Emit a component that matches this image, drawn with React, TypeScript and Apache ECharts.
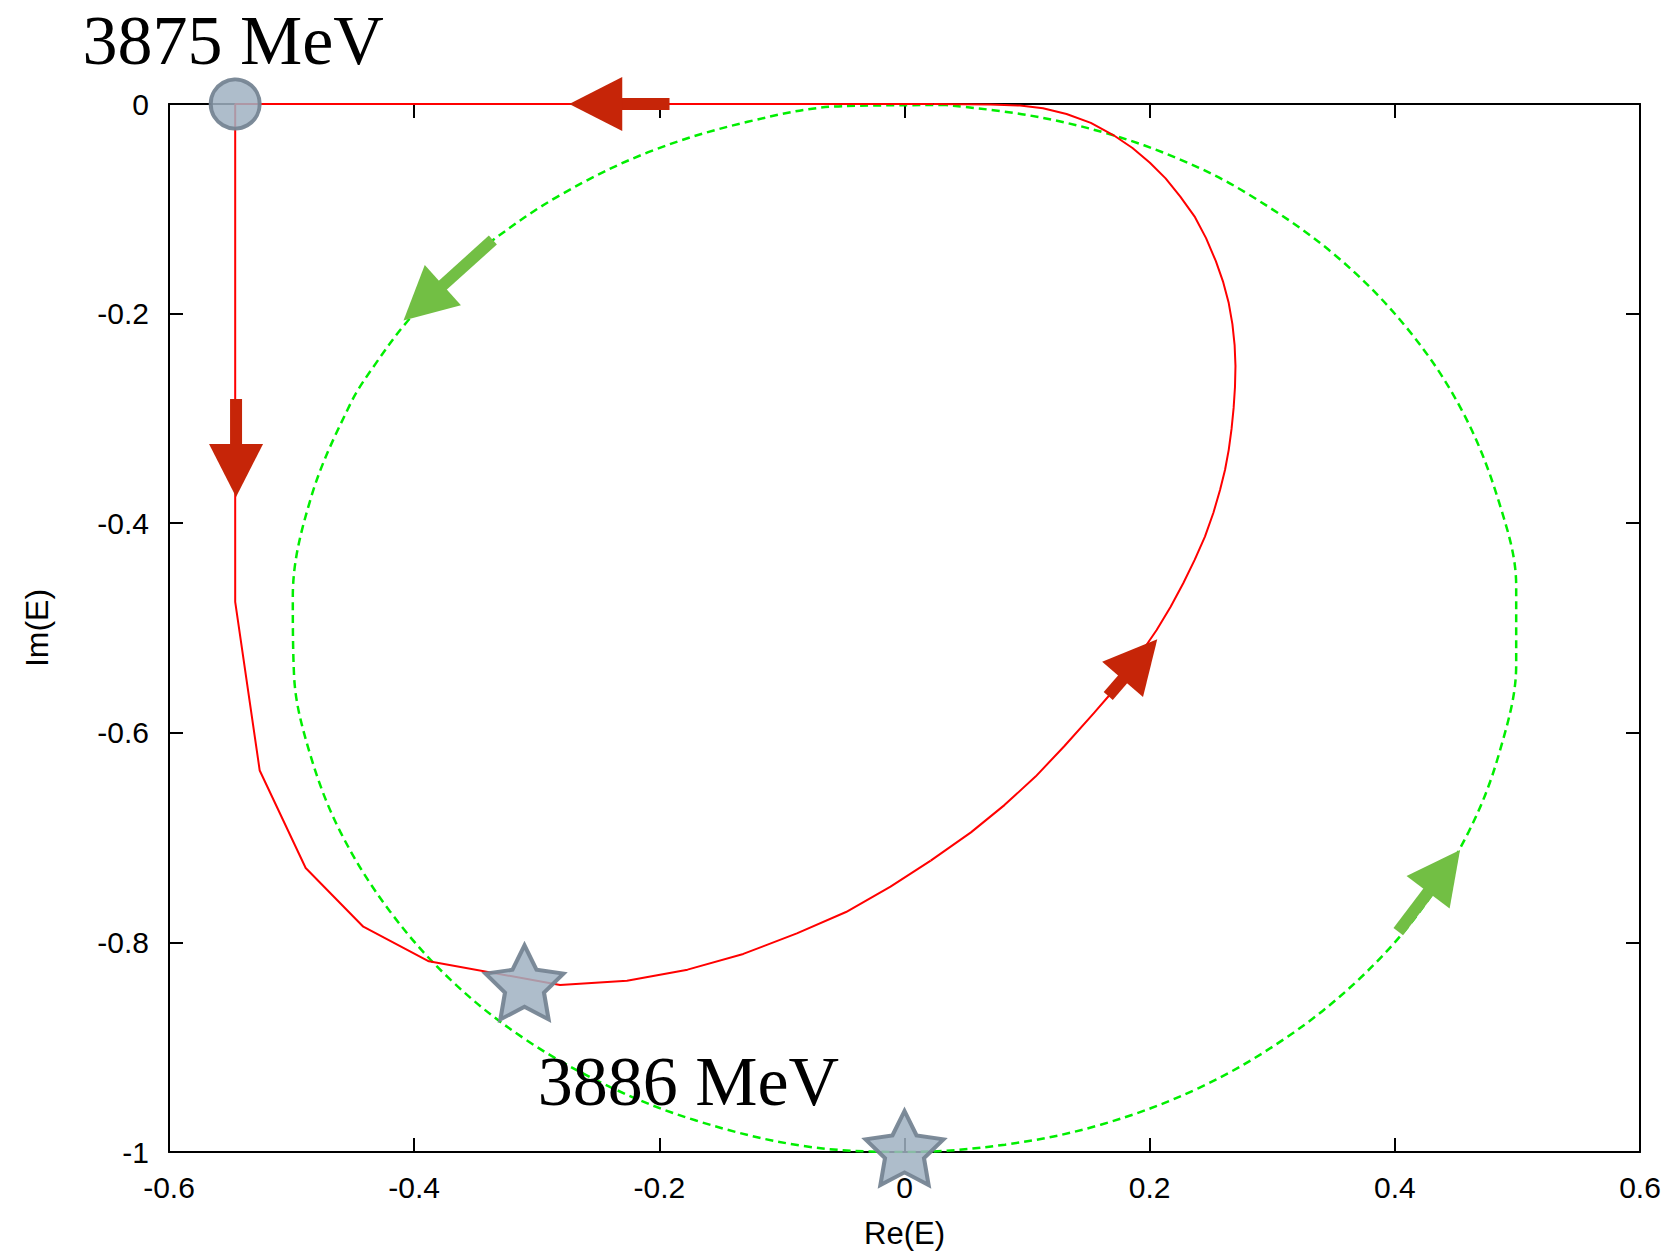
import React, { useEffect, useRef } from 'react';
import * as echarts from 'echarts';

// Axis ranges / ticks
const X_MIN = -0.6;
const X_MAX = 0.6;
const X_STEP = 0.2;
const Y_MIN = -1;
const Y_MAX = 0;
const Y_STEP = 0.2;
const xAxisName = 'Re(E)';
const yAxisName = 'Im(E)';

// Red trajectory (solid), in order of travel.
// Part 1: top edge, left side, bottom
const redPolyPath: [number, number][] = [
  [0.0235, 0], [-0.546, 0], [-0.546, -0.475], [-0.526, -0.636], [-0.4885, -0.729],
  [-0.4415, -0.785], [-0.388, -0.818], [-0.281, -0.8406], [-0.2264, -0.8365],
  [-0.177, -0.826], [-0.1315, -0.811], [-0.0878, -0.7914], [-0.0477, -0.771],
  [-0.0114, -0.7468], [0.0214, -0.722],
];
// Part 2: rising to the right and curving back to the top edge
const redArcPath: [number, number][] = [
  [0.0214, -0.722], [0.0542, -0.695], [0.0815, -0.669], [0.1069, -0.6418], [0.1305, -0.6126],
  [0.1543, -0.5814], [0.168, -0.563], [0.181, -0.543], [0.194, -0.522], [0.2057, -0.5019],
  [0.217, -0.48], [0.2274, -0.4573], [0.2367, -0.435], [0.2451, -0.4128], [0.252, -0.39],
  [0.2574, -0.3683], [0.2615, -0.349], [0.2645, -0.33], [0.2668, -0.31], [0.2685, -0.29],
  [0.2696, -0.27], [0.27, -0.25], [0.2693, -0.23], [0.2675, -0.21], [0.2645, -0.19],
  [0.26, -0.17], [0.254, -0.15], [0.246, -0.128], [0.237, -0.108], [0.225, -0.0884],
  [0.213, -0.071], [0.2002, -0.056], [0.186, -0.042], [0.1703, -0.0296], [0.152, -0.018],
  [0.1322, -0.0095], [0.113, -0.004], [0.0942, -0.0015], [0.07, -0.0004], [0.0235, 0],
];

// Green trajectory (dashed)
const greenPath: [number, number][] = [
  [0.034, -0.001], [-0.05, -0.002], [-0.128, -0.017], [-0.209, -0.046], [-0.281, -0.087],
  [-0.337, -0.131], [-0.373, -0.167], [-0.406, -0.208], [-0.431, -0.247], [-0.452, -0.286],
  [-0.484, -0.375], [-0.499, -0.47], [-0.498, -0.545], [-0.485, -0.62], [-0.46, -0.695],
  [-0.42, -0.77], [-0.37, -0.836], [-0.31, -0.892], [-0.24, -0.938], [-0.17, -0.97],
  [-0.084, -0.994], [0, -1.0], [0.082, -0.993], [0.16, -0.974], [0.24, -0.939],
  [0.31, -0.892], [0.37, -0.836], [0.42, -0.771], [0.46, -0.695], [0.485, -0.62],
  [0.499, -0.535], [0.499, -0.46], [0.485, -0.38], [0.455, -0.293], [0.41, -0.214],
  [0.35, -0.143], [0.279, -0.085], [0.225, -0.053], [0.165, -0.028], [0.1, -0.0105],
  [0.034, -0.001],
];

// Markers
const startPoint: [number, number][] = [[-0.546, 0]];
const starPoints: [number, number][] = [[-0.31, -0.842], [0, -1]];
const startLabel = '3875 MeV';
const endLabel = '3886 MeV';

// Arrows: [tailX, tailY, tipX, tipY]
const redArrows: number[][] = [
  [-0.1917, 0, -0.2735, 0],
  [-0.5453, -0.2815, -0.5453, -0.375],
  [0.1662, -0.5649, 0.2062, -0.5108],
];
const greenArrows: number[][] = [
  [-0.3358, -0.1298, -0.4087, -0.2067],
  [0.4028, -0.7898, 0.4532, -0.7118],
];

const STAR_PATH =
  'path://M50,0 L64.69,29.77 L97.55,34.55 L73.78,57.73 L79.39,90.45 L50,75 L20.61,90.45 L26.22,57.73 L2.45,34.55 L35.31,29.77 Z';

const makeArrowRenderer = (color: string) => (_params: any, api: any) => {
  const p1 = api.coord([api.value(0), api.value(1)]);
  const p2 = api.coord([api.value(2), api.value(3)]);
  const dx = p2[0] - p1[0];
  const dy = p2[1] - p1[1];
  const len = Math.hypot(dx, dy) || 1;
  const ux = dx / len;
  const uy = dy / len;
  const headLen = 53;
  const halfW = 27;
  const bx = p2[0] - ux * headLen;
  const by = p2[1] - uy * headLen;
  const px = -uy;
  const py = ux;
  return {
    type: 'group',
    children: [
      {
        type: 'line',
        shape: { x1: p1[0], y1: p1[1], x2: bx + ux * 3, y2: by + uy * 3 },
        style: { stroke: color, lineWidth: 12, lineCap: 'butt' },
      },
      {
        type: 'polygon',
        shape: {
          points: [
            [p2[0], p2[1]],
            [bx + px * halfW, by + py * halfW],
            [bx - px * halfW, by - py * halfW],
          ],
        },
        style: { fill: color },
      },
    ],
  };
};

const tickFont = { fontFamily: 'Liberation Sans, Arial, sans-serif', fontSize: 30, color: '#000' };
const serifLabel = {
  fontFamily: 'Liberation Serif, Times New Roman, serif',
  fontSize: 70,
  color: '#000',
  opacity: 1,
  textBorderWidth: 0,
};
const markerStyle = {
  color: 'rgba(160,178,194,0.85)',
  borderColor: 'rgba(118,133,147,0.95)',
  borderWidth: 4,
  opacity: 1,
};

export default function App() {
  const ref = useRef<HTMLDivElement>(null);
  useEffect(() => {
    if (!ref.current) return;
    const chart = echarts.init(ref.current, undefined, { renderer: 'svg' });
    const axisLine = { show: true, onZero: false, lineStyle: { color: '#000', width: 2 } };
    const axisTick = { show: true, inside: true, length: 14, lineStyle: { color: '#000', width: 2 } };
    chart.setOption({
      animation: false,
      backgroundColor: '#fff',
      grid: { left: 169, right: 35, top: 104, bottom: 102, containLabel: false },
      xAxis: [
        {
          type: 'value', min: X_MIN, max: X_MAX, interval: X_STEP, position: 'bottom',
          name: xAxisName, nameLocation: 'middle', nameGap: 66,
          nameTextStyle: { ...tickFont, fontSize: 31 },
          axisLine, axisTick, splitLine: { show: false },
          axisLabel: { ...tickFont, margin: 20 },
        },
        {
          type: 'value', min: X_MIN, max: X_MAX, interval: X_STEP, position: 'top',
          axisLine, axisTick, splitLine: { show: false }, axisLabel: { show: false },
        },
      ],
      yAxis: [
        {
          type: 'value', min: Y_MIN, max: Y_MAX, interval: Y_STEP, position: 'left',
          name: yAxisName, nameLocation: 'middle', nameGap: 116,
          nameTextStyle: { ...tickFont, fontSize: 32 },
          axisLine, axisTick, splitLine: { show: false },
          axisLabel: { ...tickFont, margin: 20 },
        },
        {
          type: 'value', min: Y_MIN, max: Y_MAX, interval: Y_STEP, position: 'right',
          axisLine, axisTick, splitLine: { show: false }, axisLabel: { show: false },
        },
      ],
      series: [
        {
          type: 'line', data: greenPath, showSymbol: false, symbol: 'none', silent: true, smooth: 0.35,
          lineStyle: { color: '#00ee00', width: 2.5, type: [8, 5] }, z: 2,
        },
        {
          type: 'line', data: redPolyPath, showSymbol: false, symbol: 'none', silent: true,
          lineStyle: { color: '#ff0000', width: 2 }, z: 3,
        },
        {
          type: 'line', data: redArcPath, showSymbol: false, symbol: 'none', silent: true,
          lineStyle: { color: '#ff0000', width: 2, join: 'round' }, z: 3,
        },
        {
          type: 'custom', data: redArrows, renderItem: makeArrowRenderer('#c62508'), silent: true,
          encode: { x: [0, 2], y: [1, 3] }, clip: false, z: 4,
        },
        {
          type: 'custom', data: greenArrows, renderItem: makeArrowRenderer('#72bf44'), silent: true,
          encode: { x: [0, 2], y: [1, 3] }, clip: false, z: 4,
        },
        {
          type: 'scatter', silent: true, z: 6,
          data: starPoints.map((p, i) =>
            i === 1
              ? {
                  value: p,
                  label: { show: true, formatter: endLabel, position: 'inside', offset: [-216, -67], ...serifLabel },
                }
              : { value: p }
          ),
          symbol: STAR_PATH, symbolSize: [78, 74], symbolOffset: [0, -4],
          itemStyle: markerStyle,
        },
        {
          type: 'scatter', silent: true, z: 7,
          data: startPoint,
          symbol: 'circle', symbolSize: 49,
          itemStyle: markerStyle,
          label: { show: true, formatter: startLabel, position: 'inside', offset: [-2, -64], ...serifLabel },
        },
      ],
    });
    return () => chart.dispose();
  }, []);
  return (
    <div
      ref={ref}
      style={{ position: 'absolute', left: 0, top: 0, width: 1675, height: 1254 }}
    />
  );
}
